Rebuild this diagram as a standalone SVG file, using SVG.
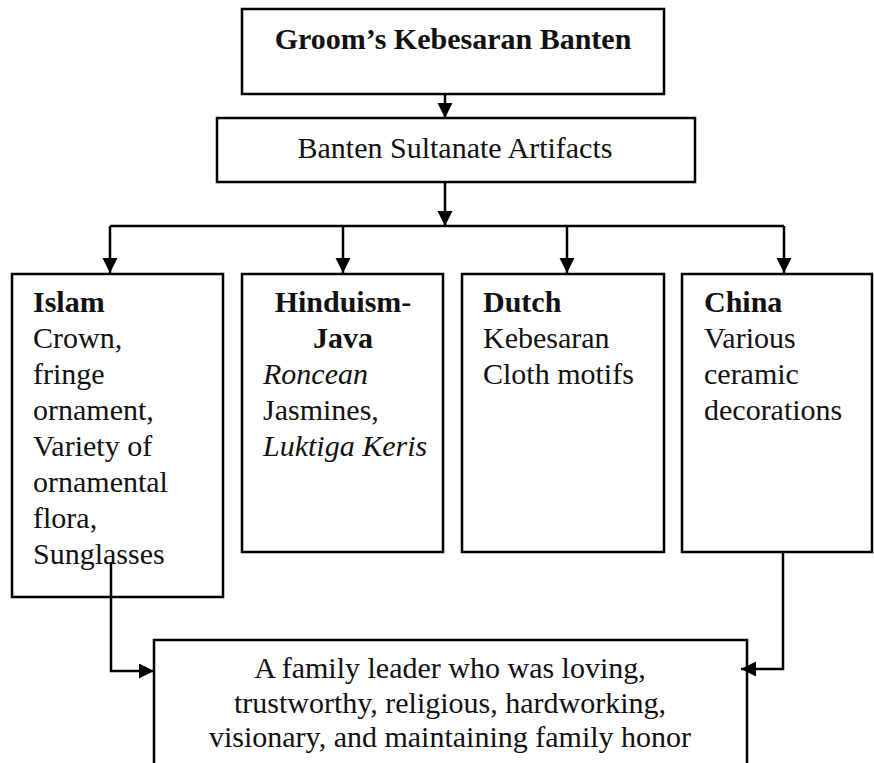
<svg xmlns="http://www.w3.org/2000/svg" width="874" height="763" viewBox="0 0 874 763">
<style>
.box{fill:#fff;stroke:#000;stroke-width:2.5}
.ln{fill:none;stroke:#000;stroke-width:2.5}
text{font-family:"Liberation Serif","Times New Roman",serif;font-size:30px;fill:#111}
.b{font-weight:bold}
.i{font-style:italic}
.c{text-anchor:middle}
</style>
<defs>
<marker id="ah" markerUnits="userSpaceOnUse" markerWidth="16" markerHeight="16" refX="15" refY="7.5" orient="auto">
<path d="M0,0 L15,7.5 L0,15 Z" fill="#000"/>
</marker>
</defs>
<g id="connectors">
<path class="ln" d="M445,94 V118" marker-end="url(#ah)"/>
<path class="ln" d="M445,182 V226" marker-end="url(#ah)"/>
<path class="ln" d="M110,226 H784"/>
<path class="ln" d="M110,226 V273" marker-end="url(#ah)"/>
<path class="ln" d="M343,226 V273" marker-end="url(#ah)"/>
<path class="ln" d="M567,226 V273" marker-end="url(#ah)"/>
<path class="ln" d="M784,226 V273" marker-end="url(#ah)"/>
</g>
<g id="n-top">
<rect class="box" x="242" y="9" width="422" height="85"/>
<text class="b c" x="453" y="49">Groom’s Kebesaran Banten</text>
</g>
<g id="n-artifacts">
<rect class="box" x="217" y="118" width="478" height="64"/>
<text class="c" x="455" y="158">Banten Sultanate Artifacts</text>
</g>
<g id="n-islam">
<rect class="box" x="12" y="274" width="211" height="323"/>
<text x="33" y="312" class="b">Islam</text>
<text x="33" y="348">Crown,</text>
<text x="33" y="384">fringe</text>
<text x="33" y="420">ornament,</text>
<text x="33" y="456">Variety of</text>
<text x="33" y="492">ornamental</text>
<text x="33" y="528">flora,</text>
<text x="33" y="564">Sunglasses</text>
</g>
<g id="n-hindu">
<rect class="box" x="242" y="274" width="201" height="278"/>
<text x="343" y="312" class="b c">Hinduism-</text>
<text x="343" y="348" class="b c">Java</text>
<text x="263" y="384" class="i">Roncean</text>
<text x="263" y="420">Jasmines,</text>
<text x="263" y="456" class="i">Luktiga Keris</text>
</g>
<g id="n-dutch">
<rect class="box" x="462" y="274" width="202" height="278"/>
<text x="483" y="312" class="b">Dutch</text>
<text x="483" y="348">Kebesaran</text>
<text x="483" y="384">Cloth motifs</text>
</g>
<g id="n-china">
<rect class="box" x="682" y="274" width="190" height="278"/>
<text x="704" y="312" class="b">China</text>
<text x="704" y="348">Various</text>
<text x="704" y="384">ceramic</text>
<text x="704" y="420">decorations</text>
</g>
<g id="n-leader">
<rect class="box" x="154" y="640" width="593" height="140"/>
<text class="c" x="450" y="678">A family leader who was loving,</text>
<text class="c" x="450" y="713">trustworthy, religious, hardworking,</text>
<text class="c" x="450" y="747">visionary, and maintaining family honor</text>
</g>
<g id="connectors-bottom">
<path class="ln" d="M111,562 V671 H154" marker-end="url(#ah)"/>
<path class="ln" d="M783,552 V669 H741" marker-end="url(#ah)"/>
</g>
</svg>
